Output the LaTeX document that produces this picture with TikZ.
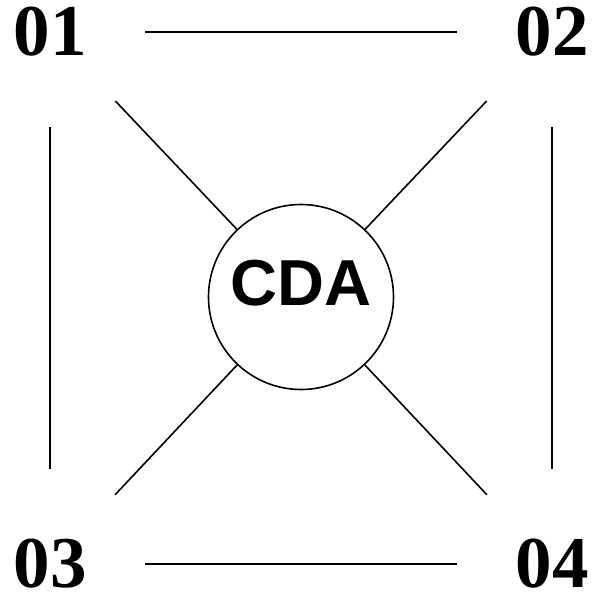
\documentclass[tikz,border=0pt]{standalone}
\usepackage{fontspec}
\usepackage{tikz}
\newfontfamily\numserif{Liberation Serif}
\newfontfamily\hubsans{Liberation Sans}
\tikzset{
  lnk/.style={line width=1.6pt},
  num/.style={circle,minimum size=190pt,inner sep=0pt,outer sep=0pt,font=\numserif\bfseries\fontsize{73pt}{73pt}\selectfont},
  hub/.style={draw,lnk,circle,minimum size=185pt,inner sep=0pt,text depth=28pt,font=\hubsans\bfseries\fontsize{65pt}{65pt}\selectfont}
}
\begin{document}
\begin{tikzpicture}[x=1pt,y=-1pt]
\useasboundingbox (0,0) rectangle (592,592);
\node[num] (n01) at (50,32) {01};
\node[num] (n02) at (552,32) {02};
\node[num] (n03) at (50,564) {03};
\node[num] (n04) at (552,564) {04};
\node[hub] (cda) at (301,297) {CDA};
\draw[lnk] (n01) -- (n02);
\draw[lnk] (n03) -- (n04);
\draw[lnk] (n01) -- (n03);
\draw[lnk] (n02) -- (n04);
\draw[lnk] (n01) -- (cda);
\draw[lnk] (n02) -- (cda);
\draw[lnk] (n03) -- (cda);
\draw[lnk] (n04) -- (cda);
\end{tikzpicture}
\end{document}
